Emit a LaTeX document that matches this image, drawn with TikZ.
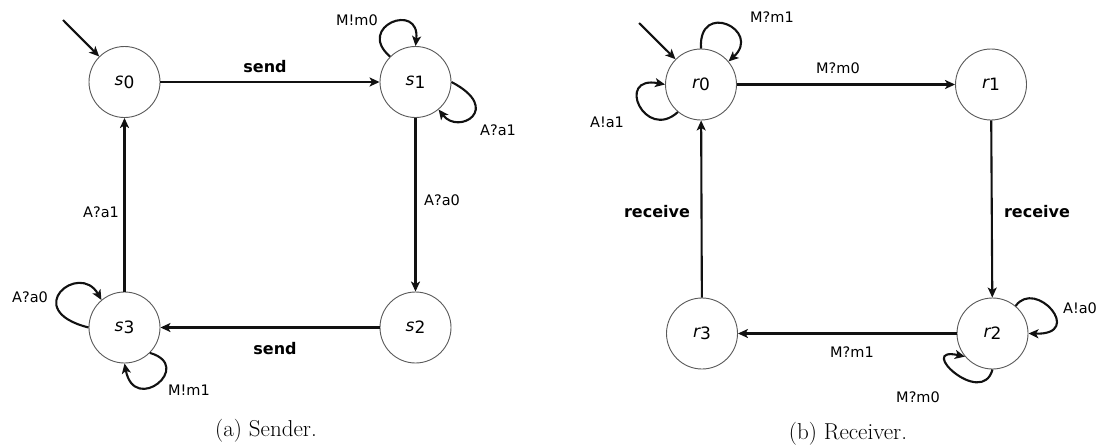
\documentclass[tikz,border=0pt]{standalone}
\usepackage{fontspec}
\setsansfont{DejaVu Sans}
\usetikzlibrary{arrows.meta}
\definecolor{edgecol}{HTML}{111111}
\newcommand{\stname}[2]{{\sffamily\fontsize{17}{19}\selectfont\itshape #1\upshape\raisebox{-2.5pt}{#2}}}
\tikzset{
  state/.style={circle, draw=black!65, line width=0.9pt, minimum size=71pt, inner sep=0pt, fill=white},
  edge/.style={line width=2.1pt, draw=edgecol, -{Stealth[length=10pt,width=9pt,inset=2.5pt]}},
  lab/.style={font=\sffamily\fontsize{14.5}{16}\selectfont, inner sep=0pt},
  blab/.style={font=\sffamily\bfseries\fontsize{16}{18}\selectfont, inner sep=0pt},
  captext/.style={font=\fontsize{23}{25}\selectfont, inner sep=0pt}
}
\begin{document}
\begin{tikzpicture}[x=1pt,y=-1pt]
\useasboundingbox (0,0) rectangle (1107,447);
% Sender
\node[state] (s0) at (124.5,82) {\stname{s}{0}};
\node[state] (s1) at (415.5,82) {\stname{s}{1}};
\node[state] (s2) at (415.5,327.5) {\stname{s}{2}};
\node[state] (s3) at (124.5,327.5) {\stname{s}{3}};
\coordinate (i0) at (63,20);
\draw[edge] (i0) -- (s0);
\draw[edge] (s0) -- (s1);
\draw[edge] (s1) -- (s2);
\draw[edge] (s2) -- (s3);
\draw[edge] (s3) -- (s0);
\draw[edge] (s1.135) .. controls +(-35,-30) and +(5,-45) .. (s1.90);
\draw[edge] (s1.0) .. controls +(52,27) and +(20,26) .. (s1.-50);
\draw[edge] (s3.180) .. controls +(-69,-17.5) and +(-22,-39) .. (s3.130);
\draw[edge] (s3.-45) .. controls +(45,13) and +(10,52) .. (s3.-90);
\node[blab] (ls01) at (265,67) {send};
\node[blab] (ls23) at (275,349) {send};
\node[lab] (ls12) at (442,200) {A?a0};
\node[lab] (ls30) at (101,212) {A?a1};
\node[lab] (ls11a) at (357,20) {M!m0};
\node[lab] (ls11b) at (498,130) {A?a1};
\node[lab] (ls33a) at (30,297) {A?a0};
\node[lab] (ls33b) at (189,390) {M!m1};
\node[captext] (capa) at (266,431) {(a) Sender.};
% Receiver
\node[state] (r0) at (701,84.5) {\stname{r}{0}};
\node[state] (r1) at (991,84.5) {\stname{r}{1}};
\node[state] (r2) at (992.5,333.5) {\stname{r}{2}};
\node[state] (r3) at (702,333.5) {\stname{r}{3}};
\coordinate (j0) at (639,23);
\draw[edge] (j0) -- (r0);
\draw[edge] (r0) -- (r1);
\draw[edge] (r1) -- (r2);
\draw[edge] (r2) -- (r3);
\draw[edge] (r3) -- (r0);
\draw[edge] (r0.90) .. controls +(-3,-49) and +(34,-31) .. (r0.40);
\draw[edge] (r0.230) .. controls +(-33,30) and +(-50.5,-9.5) .. (r0.180);
\draw[edge] (r2.50) .. controls +(20,-28) and +(57,1.5) .. (r2.0);
\draw[edge] (r2.-90) .. controls +(-10.5,39) and +(-50,-11) .. (r2.220);
\node[lab] (lr01) at (838,68) {M?m0};
\node[blab] (lr12) at (1037,212) {receive};
\node[lab] (lr23) at (852,352) {M?m1};
\node[blab] (lr30) at (657,212) {receive};
\node[lab] (lr00a) at (772,17) {M?m1};
\node[lab] (lr00b) at (607,122) {A!a1};
\node[lab] (lr22a) at (1080,308) {A!a0};
\node[lab] (lr22b) at (918,397) {M?m0};
\node[captext] (capb) at (848,434) {(b) Receiver.};
\end{tikzpicture}
\end{document}
